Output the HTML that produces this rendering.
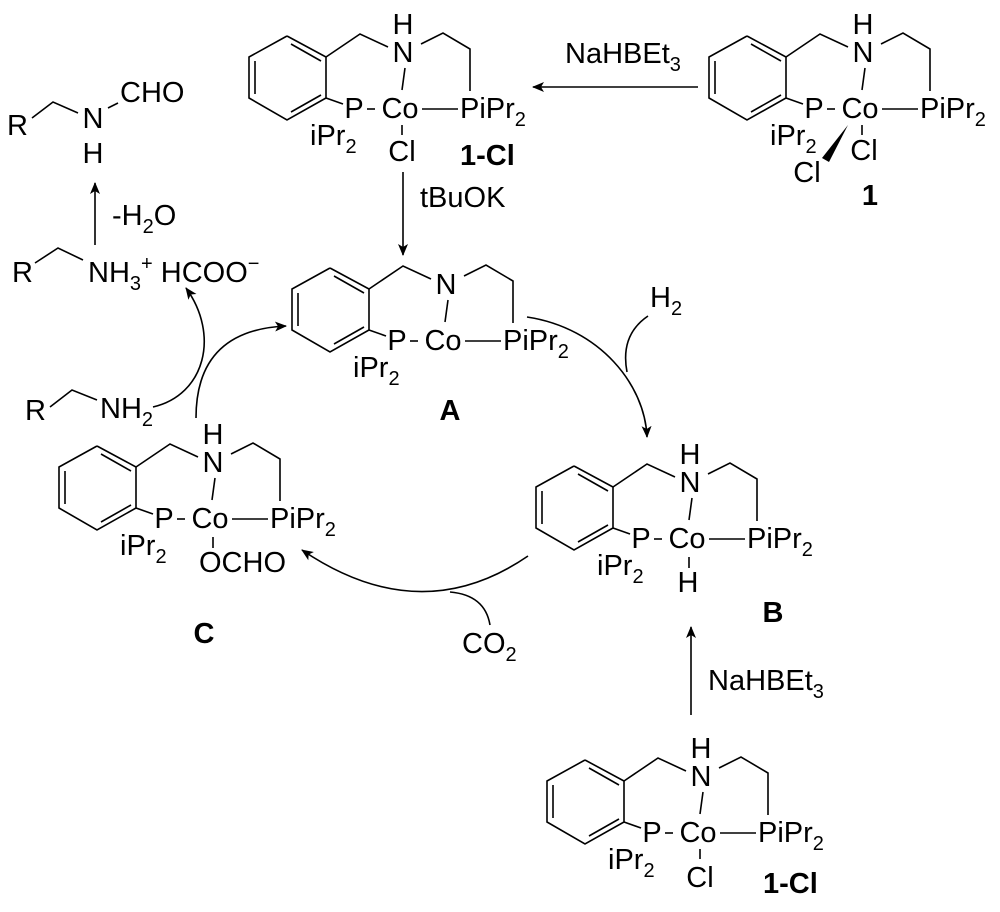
<!DOCTYPE html>
<html><head><meta charset="utf-8"><style>
html,body{margin:0;padding:0;background:#fff;}
svg{display:block;}
text{font-family:"Liberation Sans",Arial,sans-serif;font-size:29px;fill:#000;}
.s{font-size:20px;}
.b{font-weight:bold;}
</style></head><body>
<svg width="1000" height="912" viewBox="0 0 1000 912" xmlns="http://www.w3.org/2000/svg">
<defs>
<marker id="ah" viewBox="0 0 12 10" refX="11" refY="5" markerWidth="12" markerHeight="10" markerUnits="userSpaceOnUse" orient="auto">
<path d="M0,0 L12,5 L0,10 L3,5 Z" fill="#000"/>
</marker>
</defs>
<g stroke="#000" stroke-width="1.6" fill="none">

<!-- 1-Cl top -->
<g transform="translate(400,118)">
<polyline points="-113,-82 -74,-61 -74,-20 -113,2 -151,-20 -151,-61 -113,-82"/>
<line x1="-145" y1="-57" x2="-145" y2="-24"/><line x1="-109" y1="-74" x2="-79" y2="-57"/><line x1="-109" y1="-6" x2="-79" y2="-23"/>
<polyline points="-74,-61 -40,-84 -12,-71"/><polyline points="21,-74 43,-85 70,-69 70,-27"/>
<line x1="5" y1="-50" x2="2" y2="-28"/><line x1="-74" y1="-20" x2="-57" y2="-14"/><line x1="-33" y1="-9" x2="-25" y2="-9"/><line x1="22" y1="-9" x2="58" y2="-9"/>
<line x1="2" y1="7" x2="2" y2="17"/>
</g>
<!-- 1 -->
<g transform="translate(860,118)">
<polyline points="-113,-82 -74,-61 -74,-20 -113,2 -151,-20 -151,-61 -113,-82"/>
<line x1="-145" y1="-57" x2="-145" y2="-24"/><line x1="-109" y1="-74" x2="-79" y2="-57"/><line x1="-109" y1="-6" x2="-79" y2="-23"/>
<polyline points="-74,-61 -40,-84 -12,-71"/><polyline points="21,-74 43,-85 70,-69 70,-27"/>
<line x1="5" y1="-50" x2="2" y2="-28"/><line x1="-74" y1="-20" x2="-57" y2="-14"/><line x1="-33" y1="-9" x2="-25" y2="-9"/><line x1="22" y1="-9" x2="58" y2="-9"/>
<line x1="2" y1="7" x2="2" y2="17"/>
<path d="M-12,7 L-31,44 L-38,40 Z" fill="#000" stroke="none"/>
</g>
<!-- A -->
<g transform="translate(443,350)">
<polyline points="-113,-82 -74,-61 -74,-20 -113,2 -151,-20 -151,-61 -113,-82"/>
<line x1="-145" y1="-57" x2="-145" y2="-24"/><line x1="-109" y1="-74" x2="-79" y2="-57"/><line x1="-109" y1="-6" x2="-79" y2="-23"/>
<polyline points="-74,-61 -40,-84 -12,-71"/><polyline points="21,-74 43,-85 70,-69 70,-27"/>
<line x1="5" y1="-50" x2="2" y2="-28"/><line x1="-74" y1="-20" x2="-57" y2="-14"/><line x1="-33" y1="-9" x2="-25" y2="-9"/><line x1="22" y1="-9" x2="58" y2="-9"/>
</g>
<!-- B -->
<g transform="translate(687,548)">
<polyline points="-113,-82 -74,-61 -74,-20 -113,2 -151,-20 -151,-61 -113,-82"/>
<line x1="-145" y1="-57" x2="-145" y2="-24"/><line x1="-109" y1="-74" x2="-79" y2="-57"/><line x1="-109" y1="-6" x2="-79" y2="-23"/>
<polyline points="-74,-61 -40,-84 -12,-71"/><polyline points="21,-74 43,-85 70,-69 70,-27"/>
<line x1="5" y1="-50" x2="2" y2="-28"/><line x1="-74" y1="-20" x2="-57" y2="-14"/><line x1="-33" y1="-9" x2="-25" y2="-9"/><line x1="22" y1="-9" x2="58" y2="-9"/>
<line x1="2" y1="9" x2="2" y2="20"/>
</g>
<!-- C -->
<g transform="translate(210,528)">
<polyline points="-113,-82 -74,-61 -74,-20 -113,2 -151,-20 -151,-61 -113,-82"/>
<line x1="-145" y1="-57" x2="-145" y2="-24"/><line x1="-109" y1="-74" x2="-79" y2="-57"/><line x1="-109" y1="-6" x2="-79" y2="-23"/>
<polyline points="-74,-61 -40,-84 -12,-71"/><polyline points="21,-74 43,-85 70,-69 70,-27"/>
<line x1="5" y1="-50" x2="2" y2="-28"/><line x1="-74" y1="-20" x2="-57" y2="-14"/><line x1="-33" y1="-9" x2="-25" y2="-9"/><line x1="22" y1="-9" x2="58" y2="-9"/>
<line x1="3" y1="9" x2="3" y2="20"/>
</g>
<!-- 1-Cl bottom -->
<g transform="translate(698,842)">
<polyline points="-113,-82 -74,-61 -74,-20 -113,2 -151,-20 -151,-61 -113,-82"/>
<line x1="-145" y1="-57" x2="-145" y2="-24"/><line x1="-109" y1="-74" x2="-79" y2="-57"/><line x1="-109" y1="-6" x2="-79" y2="-23"/>
<polyline points="-74,-61 -40,-84 -12,-71"/><polyline points="21,-74 43,-85 70,-69 70,-27"/>
<line x1="5" y1="-50" x2="2" y2="-28"/><line x1="-74" y1="-20" x2="-57" y2="-14"/><line x1="-33" y1="-9" x2="-25" y2="-9"/><line x1="22" y1="-9" x2="58" y2="-9"/>
<line x1="2" y1="7" x2="2" y2="17"/>
</g>

<!-- left organics bonds -->
<polyline points="32,118 53,102 78,113"/>
<line x1="108" y1="108" x2="118" y2="103"/>
<polyline points="35,263 58,248 83,260"/>
<polyline points="50,407 72,390 97,400"/>

<!-- arrows -->
<line x1="698" y1="87" x2="533" y2="87" marker-end="url(#ah)"/>
<line x1="403" y1="172" x2="403" y2="255" marker-end="url(#ah)"/>
<line x1="95" y1="245" x2="95" y2="183" marker-end="url(#ah)"/>
<line x1="691" y1="715" x2="691" y2="627" marker-end="url(#ah)"/>
<path d="M527,317 C600,328 645,385 647,437" marker-end="url(#ah)"/>
<path d="M648,316 Q620,335 627,372"/>
<path d="M528,556 Q420,630 302,550" marker-end="url(#ah)"/>
<path d="M490,625 Q485,595 450,592"/>
<path d="M196,418 Q196,330 286,326" marker-end="url(#ah)"/>
<path d="M153,407 C205,395 220,335 186,288" marker-end="url(#ah)"/>
</g>

<!-- text for complexes -->
<g>
<!-- 1-Cl top -->
<text x="400" y="118" text-anchor="middle">Co</text>
<text x="354" y="118" text-anchor="middle">P</text>
<text x="403" y="62" text-anchor="middle">N</text>
<text x="403" y="34" text-anchor="middle">H</text>
<text x="460" y="118">PiPr<tspan class="s" dy="8">2</tspan></text>
<text x="310" y="145">iPr<tspan class="s" dy="8">2</tspan></text>
<text x="402" y="161" text-anchor="middle">Cl</text>
<text x="460" y="165" class="b">1-Cl</text>
<!-- 1 -->
<text x="860" y="118" text-anchor="middle">Co</text>
<text x="814" y="118" text-anchor="middle">P</text>
<text x="863" y="62" text-anchor="middle">N</text>
<text x="863" y="34" text-anchor="middle">H</text>
<text x="920" y="118">PiPr<tspan class="s" dy="8">2</tspan></text>
<text x="770" y="145">iPr<tspan class="s" dy="8">2</tspan></text>
<text x="864" y="160" text-anchor="middle">Cl</text>
<text x="807" y="182" text-anchor="middle">Cl</text>
<text x="870" y="205" text-anchor="middle" class="b">1</text>
<!-- A -->
<text x="443" y="350" text-anchor="middle">Co</text>
<text x="397" y="350" text-anchor="middle">P</text>
<text x="446" y="294" text-anchor="middle">N</text>
<text x="503" y="350">PiPr<tspan class="s" dy="8">2</tspan></text>
<text x="353" y="377">iPr<tspan class="s" dy="8">2</tspan></text>
<text x="450" y="420" text-anchor="middle" class="b">A</text>
<!-- B -->
<text x="687" y="548" text-anchor="middle">Co</text>
<text x="641" y="548" text-anchor="middle">P</text>
<text x="690" y="492" text-anchor="middle">N</text>
<text x="690" y="464" text-anchor="middle">H</text>
<text x="747" y="548">PiPr<tspan class="s" dy="8">2</tspan></text>
<text x="597" y="575">iPr<tspan class="s" dy="8">2</tspan></text>
<text x="688" y="592" text-anchor="middle">H</text>
<text x="773" y="622" text-anchor="middle" class="b">B</text>
<!-- C -->
<text x="210" y="528" text-anchor="middle">Co</text>
<text x="164" y="528" text-anchor="middle">P</text>
<text x="213" y="472" text-anchor="middle">N</text>
<text x="213" y="444" text-anchor="middle">H</text>
<text x="270" y="528">PiPr<tspan class="s" dy="8">2</tspan></text>
<text x="120" y="555">iPr<tspan class="s" dy="8">2</tspan></text>
<text x="199" y="572">OCHO</text>
<text x="204" y="643" text-anchor="middle" class="b">C</text>
<!-- 1-Cl bottom -->
<text x="698" y="842" text-anchor="middle">Co</text>
<text x="652" y="842" text-anchor="middle">P</text>
<text x="701" y="786" text-anchor="middle">N</text>
<text x="701" y="758" text-anchor="middle">H</text>
<text x="758" y="842">PiPr<tspan class="s" dy="8">2</tspan></text>
<text x="608" y="869">iPr<tspan class="s" dy="8">2</tspan></text>
<text x="700" y="887" text-anchor="middle">Cl</text>
<text x="763" y="893" class="b">1-Cl</text>

<!-- reagents -->
<text x="565" y="63">NaHBEt<tspan class="s" dy="8">3</tspan></text>
<text x="420" y="207">tBuOK</text>
<text x="650" y="307">H<tspan class="s" dy="8">2</tspan></text>
<text x="708" y="690">NaHBEt<tspan class="s" dy="8">3</tspan></text>
<text x="462" y="653">CO<tspan class="s" dy="8">2</tspan></text>

<!-- left organics -->
<text x="7" y="135">R</text>
<text x="93" y="128" text-anchor="middle">N</text>
<text x="93" y="163" text-anchor="middle">H</text>
<text x="120" y="102">CHO</text>
<text x="112" y="225">-H<tspan class="s" dy="8">2</tspan><tspan dy="-8">O</tspan></text>
<text x="12" y="282">R</text>
<text x="88" y="282">NH<tspan class="s" dy="8">3</tspan><tspan class="s" dy="-20">+</tspan><tspan dy="12"> HCOO</tspan><tspan class="s" dy="-12">−</tspan></text>
<text x="25" y="420">R</text>
<text x="100" y="418">NH<tspan class="s" dy="8">2</tspan></text>
</g>
</svg>
</body></html>
